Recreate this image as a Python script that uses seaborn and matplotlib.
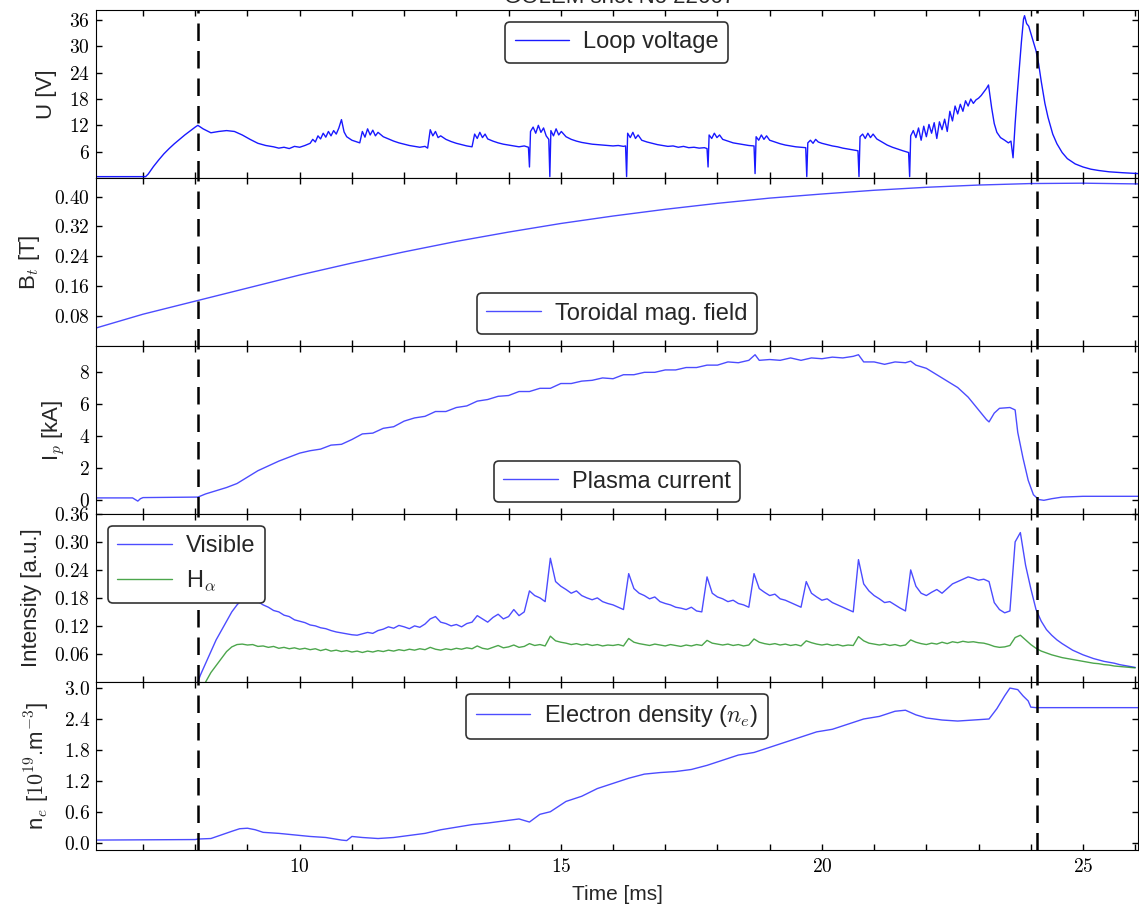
import numpy as np
import pandas as pd
import matplotlib
matplotlib.use("Agg")
import matplotlib.pyplot as plt
import seaborn as sns
from matplotlib.ticker import FixedLocator, MultipleLocator, FuncFormatter

# ---------------- data ----------------
# Loop voltage [V]
u_t = [6.10, 7.05, 7.10, 7.20, 7.30, 7.40, 7.50, 7.60, 7.70, 7.80, 7.90, 8.00, 8.05, 8.15, 8.30, 8.45,
       8.60, 8.75, 8.90, 9.05, 9.20, 9.35, 9.50, 9.60, 9.70, 9.80, 9.90, 10.00, 10.10, 10.20, 10.25,
       10.30, 10.35, 10.40, 10.45, 10.50, 10.55, 10.60, 10.65, 10.70, 10.75, 10.80, 10.85, 10.90,
       11.00, 11.10, 11.15, 11.20, 11.25, 11.30, 11.35, 11.40, 11.45, 11.50, 11.60, 11.70, 11.80,
       11.90, 12.00, 12.10, 12.20, 12.30, 12.40, 12.45, 12.50, 12.55, 12.60, 12.65, 12.70, 12.80,
       12.90, 13.00, 13.10, 13.20, 13.30, 13.35, 13.40, 13.45, 13.50, 13.55, 13.60, 13.70, 13.80,
       13.90, 14.00, 14.10, 14.20, 14.30, 14.38, 14.40, 14.42, 14.47, 14.52, 14.57, 14.62, 14.67,
       14.72, 14.77, 14.79, 14.81, 14.86, 14.91, 14.96, 15.01, 15.10, 15.20, 15.30, 15.40, 15.50,
       15.60, 15.70, 15.80, 15.90, 16.00, 16.10, 16.20, 16.24, 16.26, 16.28, 16.33, 16.38, 16.43,
       16.48, 16.55, 16.65, 16.75, 16.85, 16.95, 17.05, 17.15, 17.25, 17.35, 17.45, 17.55, 17.65,
       17.75, 17.80, 17.82, 17.84, 17.89, 17.94, 17.99, 18.04, 18.10, 18.20, 18.30, 18.40, 18.50,
       18.60, 18.70, 18.72, 18.74, 18.79, 18.84, 18.89, 18.94, 19.00, 19.10, 19.20, 19.30, 19.40,
       19.50, 19.60, 19.69, 19.71, 19.73, 19.78, 19.83, 19.88, 19.93, 20.00, 20.10, 20.20, 20.30,
       20.40, 20.50, 20.60, 20.69, 20.71, 20.73, 20.78, 20.83, 20.88, 20.93, 20.98, 21.05, 21.15,
       21.25, 21.35, 21.45, 21.55, 21.66, 21.68, 21.70, 21.75, 21.80, 21.85, 21.90, 21.95, 22.00,
       22.05, 22.10, 22.15, 22.20, 22.25, 22.30, 22.35, 22.40, 22.45, 22.50, 22.55, 22.60, 22.65,
       22.70, 22.75, 22.80, 22.85, 22.90, 22.95, 23.00, 23.05, 23.10, 23.15, 23.19, 23.25, 23.30,
       23.35, 23.42, 23.50, 23.57, 23.62, 23.66, 23.70, 23.74, 23.78, 23.82, 23.86, 23.88, 23.92,
       23.96, 24.00, 24.05, 24.10, 24.15, 24.20, 24.27, 24.33, 24.42, 24.50, 24.60, 24.70, 24.85,
       25.00, 25.15, 25.30, 25.50, 25.75, 26.05]
u_val = [0.3, 0.3, 0.9, 2.6, 4.1, 5.5, 6.7, 7.8, 8.8, 9.8, 10.7, 11.6, 12.0, 11.2, 10.3, 10.6,
         10.8, 10.6, 9.8, 8.8, 7.9, 7.4, 7.1, 6.8, 7.0, 6.7, 7.2, 7.0, 7.4, 7.9, 8.8,
         8.2, 9.6, 8.9, 10.2, 9.3, 10.6, 9.6, 10.8, 10.0, 11.4, 13.3, 10.5, 9.4,
         8.6, 8.2, 8.0, 10.6, 9.3, 11.2, 9.8, 10.9, 9.6, 10.4, 9.4, 8.9, 8.4,
         8.0, 7.7, 7.4, 7.2, 7.0, 7.2, 6.8, 11.0, 9.6, 10.6, 9.2, 9.6, 8.8,
         8.3, 7.9, 7.6, 7.3, 7.1, 10.0, 9.0, 10.4, 9.2, 10.0, 8.9, 8.4, 8.0,
         7.7, 7.5, 7.3, 7.1, 7.3, 7.0, 2.5, 10.6, 11.6, 10.2, 12.0, 10.4, 11.4,
         9.6, 8.8, 0.3, 10.8, 9.6, 11.2, 9.8, 10.6, 9.4, 8.8, 8.4, 8.1, 7.9,
         7.7, 7.6, 7.5, 7.4, 7.3, 7.4, 7.2, 7.3, 0.3, 10.2, 9.2, 10.4, 9.0,
         9.8, 8.6, 8.2, 7.9, 7.6, 7.4, 7.2, 7.3, 7.0, 7.2, 6.9, 7.0, 6.8,
         6.9, 6.7, 2.5, 9.8, 9.0, 10.2, 9.2, 9.8, 8.8, 8.4, 8.0, 7.8, 7.6,
         7.4, 7.3, 1.0, 9.4, 8.6, 9.8, 8.8, 9.6, 8.6, 8.2, 7.8, 7.5, 7.3,
         7.1, 7.0, 6.9, 0.3, 8.0, 8.6, 7.9, 8.8, 8.2, 7.9, 7.6, 7.3, 7.1,
         6.8, 6.6, 6.4, 6.2, 0.3, 9.4, 10.0, 9.0, 10.2, 9.2, 10.0, 8.9, 8.2,
         7.5, 7.0, 6.6, 6.2, 5.8, 0.3, 9.6, 10.8, 9.2, 11.4, 8.6, 11.8, 9.4,
         12.2, 10.2, 12.6, 9.0, 12.8, 11.0, 13.4, 10.6, 15.2, 13.0, 16.4, 14.6, 16.8,
         15.2, 17.6, 16.4, 18.0, 17.0, 17.8, 18.2, 18.8, 19.6, 20.4, 21.2, 16.0, 12.4,
         10.4, 9.2, 8.6, 8.0, 8.4, 4.6, 12.4, 19.0, 25.0, 31.0, 36.2, 37.0, 35.2,
         34.6, 33.0, 31.0, 29.0, 26.0, 22.0, 17.0, 13.8, 10.0, 7.8, 5.8, 4.4, 3.2,
         2.5, 2.0, 1.7, 1.4, 1.2, 1.0]

# Toroidal magnetic field [T]
bt_t = [6.1, 7.0, 8.0, 9.0, 10.0, 11.0, 12.0, 13.0, 14.0, 15.0, 16.0, 17.0, 18.0, 19.0, 20.0,
        21.0, 22.0, 23.0, 24.0, 25.0, 26.05]
bt_val = [0.048, 0.085, 0.120, 0.155, 0.190, 0.222, 0.252, 0.280, 0.305, 0.328, 0.348, 0.366,
          0.382, 0.396, 0.407, 0.417, 0.425, 0.431, 0.435, 0.436, 0.434]

# Plasma current [kA]
ip_t = [6.1, 6.8, 6.9, 6.95, 7.0, 8.0, 8.05, 8.2, 8.4, 8.6, 8.8, 9.0, 9.2, 9.4, 9.6, 9.8, 10.0,
        10.2, 10.4, 10.6, 10.8, 11.0, 11.2, 11.4, 11.6, 11.8, 12.0, 12.2, 12.4, 12.6, 12.8, 13.0,
        13.2, 13.4, 13.6, 13.8, 14.0, 14.2, 14.4, 14.6, 14.8, 15.0, 15.2, 15.4, 15.6, 15.8, 16.0,
        16.2, 16.4, 16.6, 16.8, 17.0, 17.2, 17.4, 17.6, 17.8, 18.0, 18.2, 18.4, 18.6, 18.72, 18.8,
        19.0, 19.2, 19.4, 19.6, 19.8, 20.0, 20.2, 20.4, 20.6, 20.7, 20.8, 21.0, 21.2, 21.4, 21.6,
        21.7, 21.8, 22.0, 22.2, 22.4, 22.6, 22.8, 23.0, 23.15, 23.2, 23.3, 23.4, 23.6, 23.7, 23.75,
        23.85, 23.95, 24.05, 24.15, 24.25, 24.4, 24.6, 25.0, 26.05]
ip_val = [0.1, 0.1, -0.1, 0.05, 0.12, 0.15, 0.15, 0.35, 0.55, 0.75, 1.0, 1.4, 1.8, 2.1, 2.4, 2.65,
          2.9, 3.05, 3.15, 3.4, 3.45, 3.75, 4.1, 4.15, 4.45, 4.55, 4.9, 5.1, 5.2, 5.5, 5.5, 5.75,
          5.85, 6.15, 6.25, 6.45, 6.5, 6.75, 6.75, 6.95, 6.95, 7.25, 7.25, 7.4, 7.45, 7.6, 7.55,
          7.8, 7.8, 7.95, 7.95, 8.1, 8.1, 8.25, 8.25, 8.4, 8.4, 8.6, 8.55, 8.7, 9.05, 8.7,
          8.75, 8.7, 8.85, 8.7, 8.85, 8.8, 8.9, 8.85, 8.95, 9.05, 8.6, 8.6, 8.45, 8.6, 8.55,
          8.65, 8.4, 8.2, 7.8, 7.4, 7.0, 6.4, 5.6, 5.0, 4.85, 5.4, 5.7, 5.75, 5.6, 4.2,
          2.6, 1.2, 0.3, 0.0, -0.05, 0.05, 0.15, 0.2, 0.2]

# Visible light intensity [a.u.], sampled every 0.1 ms from 8.1 ms (8.05 ms = start)
vis_start = [0.0]
vis_val = [
    0.015, 0.04, 0.065, 0.09, 0.11, 0.13, 0.15, 0.165, 0.177, 0.18,
    0.178, 0.172, 0.165, 0.16, 0.153, 0.15, 0.143, 0.14, 0.133, 0.13,
    0.127, 0.122, 0.12, 0.116, 0.114, 0.11, 0.107, 0.105, 0.103, 0.101,
    0.10, 0.103, 0.106, 0.104, 0.11, 0.113, 0.118, 0.115, 0.121, 0.118,
    0.114, 0.12, 0.117, 0.124, 0.135, 0.14, 0.128, 0.125, 0.12, 0.123,
    0.118, 0.125, 0.128, 0.142, 0.135, 0.128, 0.138, 0.145, 0.135, 0.14,
    0.155, 0.142, 0.15, 0.195, 0.185, 0.18, 0.172, 0.265, 0.215, 0.205,
    0.198, 0.19, 0.195, 0.185, 0.18, 0.176, 0.18, 0.172, 0.168, 0.165,
    0.16, 0.155, 0.232, 0.2, 0.19, 0.185, 0.178, 0.182, 0.172, 0.168,
    0.165, 0.16, 0.158, 0.155, 0.16, 0.152, 0.15, 0.225, 0.19, 0.182,
    0.178, 0.172, 0.175, 0.168, 0.165, 0.16, 0.232, 0.2, 0.192, 0.185,
    0.188, 0.178, 0.175, 0.17, 0.165, 0.16, 0.215, 0.19, 0.182, 0.175,
    0.178, 0.17, 0.165, 0.16, 0.155, 0.15, 0.262, 0.21, 0.195, 0.185,
    0.178, 0.17, 0.172, 0.165, 0.158, 0.152, 0.24, 0.205, 0.19, 0.185,
    0.192, 0.198, 0.19, 0.2, 0.21, 0.215, 0.22, 0.225, 0.222, 0.218,
    0.22, 0.215, 0.17, 0.155, 0.148, 0.152, 0.30, 0.32, 0.25, 0.20,
    0.155, 0.13, 0.112, 0.10, 0.09, 0.082, 0.075, 0.068, 0.063, 0.058,
    0.054, 0.05, 0.047, 0.044, 0.042, 0.04, 0.037, 0.035, 0.033, 0.031,
]

# H-alpha intensity [a.u.], sampled every 0.1 ms from 8.2 ms
ha_val = [
    0.0, 0.02, 0.035, 0.05, 0.065, 0.075, 0.08, 0.081, 0.079,
    0.08, 0.076, 0.077, 0.074, 0.076, 0.072, 0.074, 0.071, 0.073, 0.07,
    0.072, 0.069, 0.071, 0.067, 0.07, 0.066, 0.068, 0.065, 0.067, 0.064,
    0.066, 0.063, 0.066, 0.064, 0.067, 0.065, 0.068, 0.066, 0.069, 0.067,
    0.07, 0.068, 0.071, 0.069, 0.074, 0.07, 0.068, 0.071, 0.069, 0.072,
    0.07, 0.073, 0.071, 0.077, 0.072, 0.07, 0.074, 0.078, 0.073, 0.075,
    0.079, 0.074, 0.076, 0.082, 0.078, 0.08, 0.077, 0.098, 0.088, 0.085,
    0.083, 0.08, 0.082, 0.079, 0.081, 0.078, 0.08, 0.077, 0.079, 0.078,
    0.08, 0.077, 0.093, 0.085, 0.082, 0.08, 0.078, 0.081, 0.079, 0.077,
    0.08, 0.078, 0.076, 0.079, 0.077, 0.08, 0.078, 0.089, 0.083, 0.081,
    0.079, 0.081, 0.078, 0.08, 0.077, 0.079, 0.092, 0.085, 0.082, 0.08,
    0.082, 0.079, 0.081, 0.078, 0.08, 0.077, 0.088, 0.084, 0.081, 0.079,
    0.081, 0.078, 0.08, 0.077, 0.079, 0.078, 0.097, 0.088, 0.083, 0.081,
    0.079, 0.081, 0.078, 0.08, 0.077, 0.079, 0.09, 0.085, 0.082, 0.08,
    0.083, 0.081, 0.085, 0.082, 0.086, 0.084, 0.087, 0.085, 0.086, 0.084,
    0.083, 0.08, 0.076, 0.074, 0.075, 0.078, 0.095, 0.1, 0.09, 0.08,
    0.072, 0.066, 0.062, 0.058, 0.055, 0.052, 0.05, 0.048, 0.046, 0.044,
    0.042, 0.04, 0.039, 0.037, 0.036, 0.034, 0.033, 0.032, 0.031, 0.03,
]

# Electron density [1e19 m^-3]
ne_t = [6.1, 8.0, 8.05, 8.3, 8.5, 8.7, 8.85, 9.0, 9.15, 9.3, 9.6, 9.9, 10.2, 10.5, 10.8, 10.9,
        11.0, 11.2, 11.5, 11.8, 12.1, 12.4, 12.7, 13.0, 13.3, 13.6, 13.9, 14.2, 14.4, 14.6, 14.8,
        15.1, 15.4, 15.7, 16.0, 16.3, 16.6, 16.9, 17.2, 17.5, 17.8, 18.1, 18.4, 18.7, 19.0, 19.3,
        19.6, 19.9, 20.2, 20.5, 20.8, 21.1, 21.4, 21.6, 21.8, 22.0, 22.3, 22.6, 22.9, 23.2,
        23.35, 23.5, 23.6, 23.75, 23.85, 23.95, 24.0, 24.1, 26.05]
ne_val = [0.05, 0.06, 0.07, 0.08, 0.15, 0.22, 0.27, 0.28, 0.25, 0.20, 0.18, 0.15, 0.12, 0.10,
          0.05, 0.04, 0.12, 0.10, 0.08, 0.10, 0.14, 0.18, 0.25, 0.30, 0.35, 0.38, 0.42, 0.46,
          0.40, 0.55, 0.60, 0.80, 0.90, 1.05, 1.15, 1.25, 1.33, 1.36, 1.38, 1.42, 1.50, 1.60,
          1.70, 1.75, 1.85, 1.95, 2.05, 2.15, 2.20, 2.30, 2.40, 2.45, 2.55, 2.57, 2.48, 2.42,
          2.38, 2.36, 2.38, 2.40, 2.60, 2.85, 3.00, 2.97, 2.85, 2.75, 2.63, 2.62, 2.62]

# Discharge start / end markers [ms]
t_start, t_end = 8.05, 24.12

vis_t = [t_start] + [round(8.1 + 0.1 * k, 2) for k in range(len(vis_val))]
vis_y = vis_start + vis_val
ha_t = [round(8.2 + 0.1 * k, 2) for k in range(len(ha_val))]

# ---------------- style ----------------
sns.set_style("ticks", {
    "xtick.direction": "in", "ytick.direction": "in",
    "axes.edgecolor": "black", "axes.linewidth": 1.6,
    "xtick.color": "black", "ytick.color": "black",
})
plt.rcParams["font.family"] = ["Liberation Sans", "DejaVu Sans"]
plt.rcParams["mathtext.fontset"] = "cm"
plt.rcParams["axes.unicode_minus"] = False

BLUE = (0.0, 0.0, 1.0)
GREEN = (0.0, 0.5, 0.0)

fig, axes = plt.subplots(5, 1, sharex=True, figsize=(11.39, 9.07), dpi=100)
fig.subplots_adjust(left=0.0843, right=0.999, top=0.989, bottom=0.063, hspace=0)

def fmt(decimals):
    return FuncFormatter(lambda v, p: r"$%.*f$" % (decimals, v))

panels = [
    dict(t=u_t, y=u_val, label="Loop voltage", ylabel="U [V]", ylim=(0, 38.3),
         ticks=[6, 12, 18, 24, 30, 36], dec=0, loc="upper center"),
    dict(t=bt_t, y=bt_val, label="Toroidal mag. field", ylabel=r"B$_t$ [T]", ylim=(0, 0.45),
         ticks=[0.08, 0.16, 0.24, 0.32, 0.40], dec=2, loc="lower center"),
    dict(t=ip_t, y=ip_val, label="Plasma current", ylabel=r"I$_p$ [kA]", ylim=(-0.9, 9.6),
         ticks=[0, 2, 4, 6, 8], dec=0, loc="lower center"),
    None,
    dict(t=ne_t, y=ne_val, label=r"Electron density ($n_e$)",
         ylabel=r"n$_e$ [$10^{19}$.m$^{-3}$]", ylim=(-0.14, 3.12),
         ticks=[0.0, 0.6, 1.2, 1.8, 2.4, 3.0], dec=1, loc="upper center"),
]

legend_kw = dict(fontsize=17, handlelength=2.3, frameon=True, fancybox=True,
                 edgecolor="#333333", framealpha=1.0, borderpad=0.4, handletextpad=0.6)

for i, ax in enumerate(axes):
    if i == 3:
        df = pd.DataFrame({"t": vis_t, "v": vis_y})
        sns.lineplot(data=df, x="t", y="v", ax=ax, color=BLUE, alpha=0.7, lw=1.0,
                     label="Visible", estimator=None, sort=False)
        df = pd.DataFrame({"t": ha_t, "v": ha_val})
        sns.lineplot(data=df, x="t", y="v", ax=ax, color=GREEN, alpha=0.7, lw=1.0,
                     label=r"H$_\alpha$", estimator=None, sort=False)
        ax.set_ylim(0, 0.36)
        ax.yaxis.set_major_locator(FixedLocator([0.06, 0.12, 0.18, 0.24, 0.30, 0.36]))
        ax.yaxis.set_major_formatter(fmt(2))
        ax.set_ylabel("Intensity [a.u.]", fontsize=16, labelpad=8.5)
        leg = ax.legend(loc="upper left", **legend_kw)
    else:
        p = panels[i]
        df = pd.DataFrame({"t": p["t"], "v": p["y"]})
        sns.lineplot(data=df, x="t", y="v", ax=ax, color=BLUE, alpha=0.7 if i else 0.9,
                     lw=1.0, label=p["label"], estimator=None, sort=False)
        ax.set_ylim(*p["ylim"])
        ax.yaxis.set_major_locator(FixedLocator(p["ticks"]))
        ax.yaxis.set_major_formatter(fmt(p["dec"]))
        ax.set_ylabel(p["ylabel"], fontsize=16, labelpad=8.5)
        leg = ax.legend(loc=p["loc"], **legend_kw)
    leg.get_frame().set_linewidth(1.2)
    for t0 in (t_start, t_end):
        ax.axvline(t0, color="black", ls=(0, (7, 4)), lw=1.8)
    ax.tick_params(axis="both", which="both", top=True, right=True, direction="in",
                   labelsize=14, length=4.5, width=1)
    ax.tick_params(axis="y", pad=4.5)
    ax.tick_params(axis="x", pad=6)
    ax.set_xlabel("")

axes[-1].set_xlim(6.1, 26.05)
axes[-1].xaxis.set_major_locator(MultipleLocator(5))
axes[-1].xaxis.set_minor_locator(MultipleLocator(1))
axes[-1].xaxis.set_major_formatter(fmt(0))
axes[-1].set_xlabel("Time [ms]", fontsize=15, labelpad=6)

fig.text(0.544, 0.9962, "GOLEM shot No 22667", ha="center", va="baseline", fontsize=16)

fig.savefig("out.png", dpi=100)
